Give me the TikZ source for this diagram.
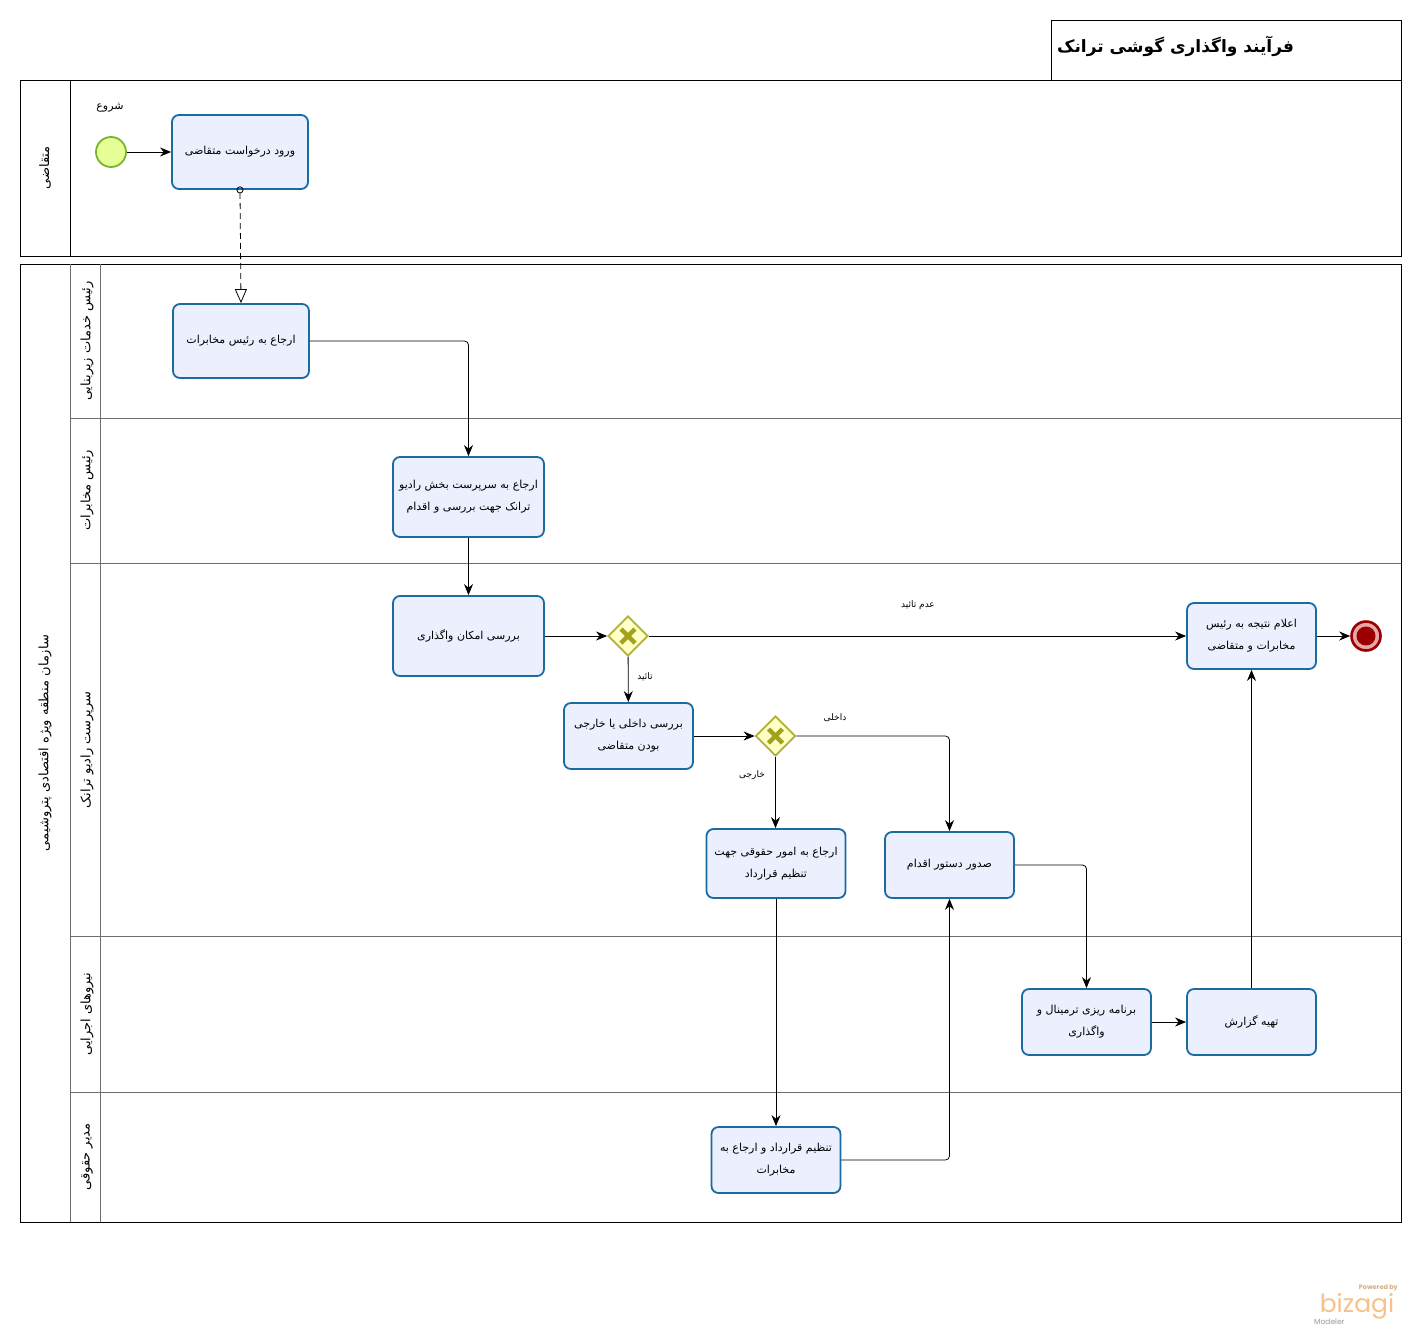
\documentclass[tikz,border=0pt]{standalone}
\usepackage{fontspec}
\usetikzlibrary{arrows.meta,shapes.geometric}
\newfontfamily\fa[Script=Arabic]{DejaVu Sans}
\newfontfamily\logofont{Poppins}
\TeXXeTstate=1
\newcommand\rlt[1]{\beginR#1\endR}
\definecolor{taskfill}{HTML}{ECEFFE}
\definecolor{taskline}{HTML}{1B6BA0}
\definecolor{gwfill}{HTML}{FFFFC6}
\definecolor{gwline}{HTML}{B0B038}
\definecolor{gwcross}{HTML}{A2A21E}
\definecolor{startfill}{HTML}{E6FF97}
\definecolor{startline}{HTML}{7AB32E}
\definecolor{endred}{HTML}{9A0000}
\definecolor{endpink}{HTML}{E9A6A6}
\definecolor{lanegray}{HTML}{6E6E6E}
\definecolor{logoorange}{HTML}{F7C28A}

\begin{document}
\begin{tikzpicture}[x=1pt, y=-1pt,
    task/.style={draw=taskline, fill=taskfill, line width=1.8pt, rounded corners=7pt,
        align=center, inner sep=0pt, font=\fa\fontsize{11}{22}\selectfont},
    gateway/.style={diamond, draw=gwline, fill=gwfill, line width=1.8pt,
        minimum width=40pt, minimum height=40pt, inner sep=0pt},
    cross/.style={gwcross, line width=4.5pt},
    flow/.style={line width=0.8pt, rounded corners=4pt, -{Stealth[length=11pt,width=9pt]}},
    msg/.style={line width=0.8pt, dash pattern=on 6pt off 4pt, shorten <=-3.5pt,
        {Circle[open,length=7pt,width=7pt]}-{Triangle[length=14pt,width=12pt,fill=white]}},
    lane/.style={rotate=90, font=\fa\fontsize{13}{15}\selectfont},
    flowlabel/.style={font=\fa\fontsize{9}{11}\selectfont},
  ]
    \useasboundingbox (0,0) rectangle (1421,1336);
    \fill[white] (0,0) rectangle (1421,1336);

    % Title
    \draw[line width=0.8pt] (1051,80) -- (1051,20) -- (1401,20) -- (1401,80);
    \node[font=\fa\bfseries\fontsize{17}{20}\selectfont, anchor=west, inner sep=0pt] (title) at (1057,46) {\rlt{فرآیند واگذاری گوشی ترانک}};

    % Pools and lanes
    \draw[line width=0.8pt] (20,80) rectangle (1401,256);
    \draw[line width=0.8pt] (70,80) -- (70,256);
    \draw[line width=0.8pt] (20,264) rectangle (1401,1222);
    \draw[lanegray, line width=0.8pt] (70,264) -- (70,1222);
    \draw[lanegray, line width=0.8pt] (100,264) -- (100,1222);
    \foreach \y in {418,563,936,1092}
        \draw[lanegray, line width=0.8pt] (70,\y) -- (1401,\y);

    \node[lane] (laneApplicant) at (45,168) {\rlt{متقاضی}};
    \node[lane] (poolOrg) at (45,743) {\rlt{سازمان منطقه ویژه اقتصادی پتروشیمی}};
    \node[lane] (laneInfra) at (87,341) {\rlt{رئیس خدمات زیربنایی}};
    \node[lane] (laneTelecom) at (87,490) {\rlt{رئیس مخابرات}};
    \node[lane] (laneRadio) at (87,750) {\rlt{سرپرست رادیو ترانک}};
    \node[lane] (laneStaff) at (87,1014) {\rlt{نیروهای اجرایی}};
    \node[lane] (laneLegal) at (87,1157) {\rlt{مدیر حقوقی}};

    % Events
    \node[circle, draw=startline, fill=startfill, line width=1.8pt, minimum size=30pt] (start) at (111,152) {};
    \node[font=\fa\fontsize{11}{13}\selectfont] (startLabel) at (110,108) {\rlt{شروع}};
    \node[circle, draw=endred, fill=endpink, line width=2.6pt, minimum size=29pt] (finish) at (1366,636) {};
    \fill[endred] (finish.center) circle (9.5);

    % Tasks
    \node[task, minimum width=136pt, minimum height=74pt] (request) at (240,152) {\rlt{ورود درخواست متقاضی}};
    \node[task, minimum width=136pt, minimum height=74pt] (toTelecom) at (241,341) {\rlt{ارجاع به رئیس مخابرات}};
    \node[task, minimum width=151pt, minimum height=80pt] (toRadio) at (468.5,497)
        {\rlt{ارجاع به سرپرست بخش رادیو}\\\rlt{ترانک جهت بررسی و اقدام}};
    \node[task, minimum width=151pt, minimum height=80pt] (checkAssign) at (468.5,636) {\rlt{بررسی امکان واگذاری}};
    \node[task, minimum width=129pt, minimum height=66pt] (checkType) at (628.5,736)
        {\rlt{بررسی داخلی یا خارجی}\\\rlt{بودن متقاضی}};
    \node[task, minimum width=139pt, minimum height=69pt] (toLegal) at (776,863.5)
        {\rlt{ارجاع به امور حقوقی جهت}\\\rlt{تنظیم قرارداد}};
    \node[task, minimum width=129pt, minimum height=66pt] (order) at (949.5,865) {\rlt{صدور دستور اقدام}};
    \node[task, minimum width=129pt, minimum height=66pt] (notify) at (1251.5,636)
        {\rlt{اعلام نتیجه به رئیس}\\\rlt{مخابرات و متقاضی}};
    \node[task, minimum width=129pt, minimum height=66pt] (planning) at (1086.5,1022)
        {\rlt{برنامه ریزی ترمینال و}\\\rlt{واگذاری}};
    \node[task, minimum width=129pt, minimum height=66pt] (report) at (1251.5,1022) {\rlt{تهیه گزارش}};
    \node[task, minimum width=129pt, minimum height=66pt] (contract) at (776,1160)
        {\rlt{تنظیم قرارداد و ارجاع به}\\\rlt{مخابرات}};

    % Gateways
    \node[gateway] (gwAssign) at (628,636) {};
    \node[gateway] (gwType) at (775.5,736) {};
    \foreach \g in {gwAssign,gwType}
        \draw[cross] (\g.center) ++(-7,-7) -- ++(14,14) (\g.center) ++(-7,7) -- ++(14,-14);

    % Connectors
    \draw[flow] (start) -- (request);
    \draw[msg] (request.south) -- (toTelecom.north);
    \draw[flow] (toTelecom.east) -| (toRadio.north);
    \draw[flow] (toRadio) -- (checkAssign);
    \draw[flow] (checkAssign) -- (gwAssign);
    \draw[flow] (gwAssign) -- (notify);
    \draw[flow] (gwAssign) -- (checkType);
    \draw[flow] (checkType) -- (gwType);
    \draw[flow] (gwType.east) -| (order.north);
    \draw[flow] (gwType.south) -- (gwType.south |- toLegal.north);
    \draw[flow] (toLegal) -- (contract);
    \draw[flow] (contract.east) -| (order.south);
    \draw[flow] (order.east) -| (planning.north);
    \draw[flow] (planning) -- (report);
    \draw[flow] (report) -- (notify);
    \draw[flow] (notify) -- (finish);

    % Flow labels
    \node[flowlabel] (lblReject) at (918,605) {\rlt{عدم تائید}};
    \node[flowlabel] (lblAccept) at (645,677) {\rlt{تائید}};
    \node[flowlabel] (lblInternal) at (835,718) {\rlt{داخلی}};
    \node[flowlabel] (lblExternal) at (752,775) {\rlt{خارجی}};

    % Watermark
    \node[font=\logofont\bfseries\fontsize{6.5}{7}\selectfont, text=logoorange!70!gray, anchor=east, inner sep=0pt] (powered) at (1398,1288) {Powered by};
    \node[font=\logofont\fontsize{25}{26}\selectfont, text=logoorange, inner sep=0pt, anchor=base] (bizagi) at (1357,1312) {bizagi};
    \node[font=\logofont\fontsize{7.5}{8}\selectfont, text=gray!80, anchor=base west, inner sep=0pt] (modeler) at (1314,1324) {Modeler};
\end{tikzpicture}
\end{document}
